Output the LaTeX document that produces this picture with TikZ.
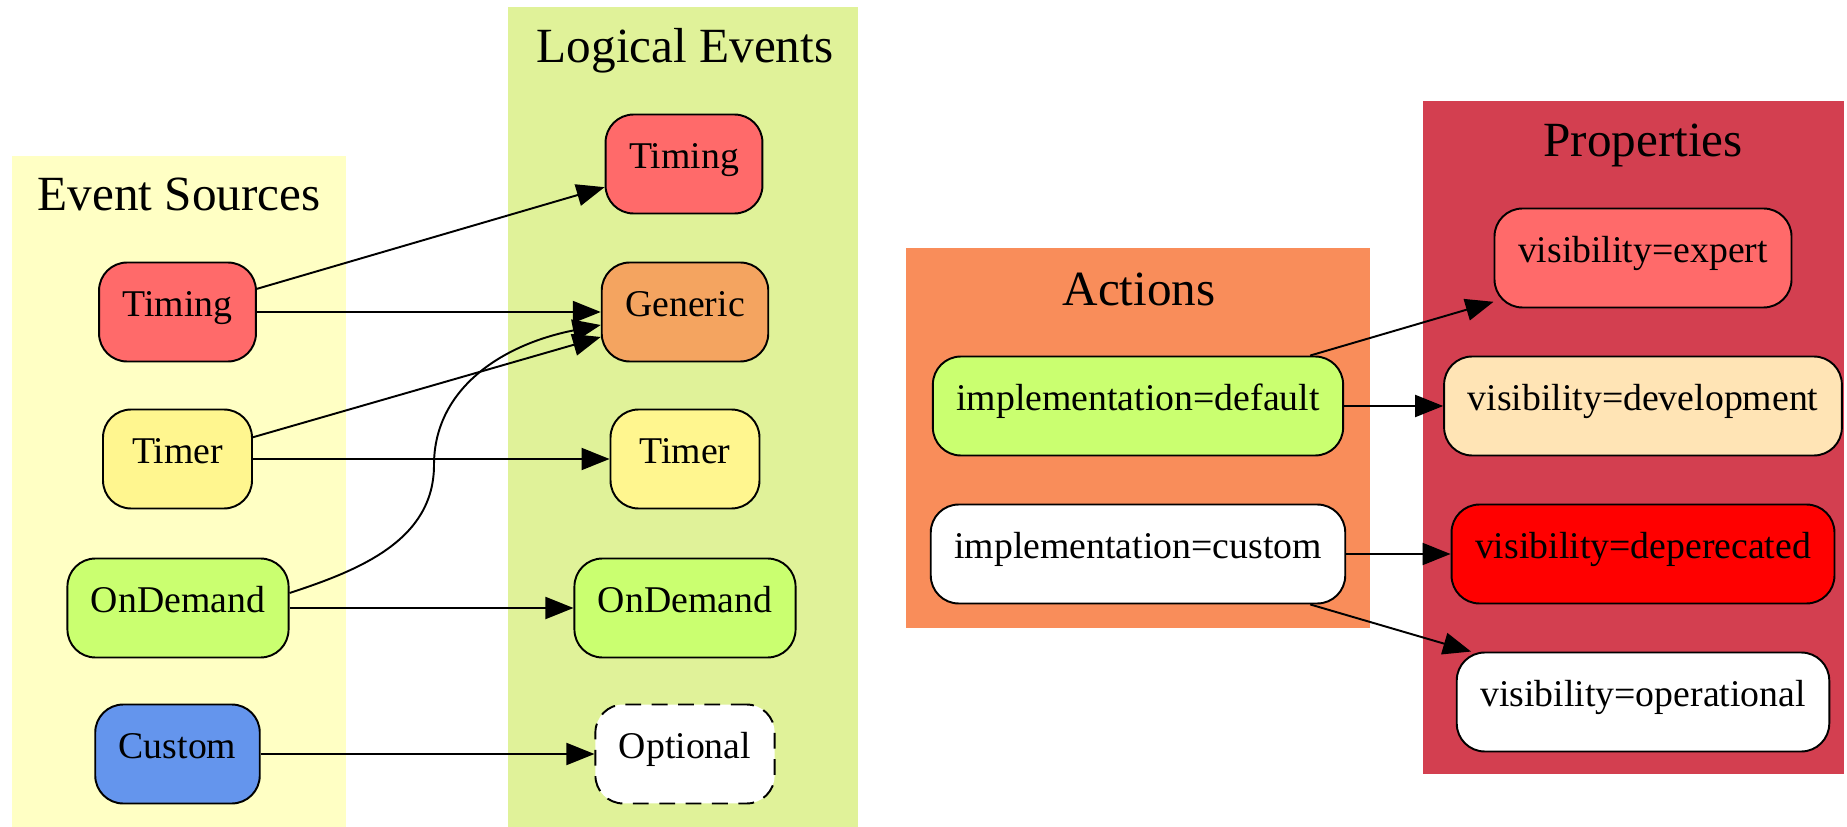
\documentclass[tikz,border=0pt]{standalone}
\usepackage{fontspec}
\setmainfont{Liberation Serif}
\usetikzlibrary{arrows.meta}
\tikzset{>={Triangle[length=0.56cm,width=0.44cm]}}

\definecolor{srcbg}{HTML}{FFFFC4}
\definecolor{logbg}{HTML}{E0F299}
\definecolor{actbg}{HTML}{F98D5A}
\definecolor{propbg}{HTML}{D33F50}
\definecolor{timingred}{HTML}{FF6A6A}
\definecolor{genericorange}{HTML}{F4A460}
\definecolor{timeryellow}{HTML}{FFF68F}
\definecolor{demandgreen}{HTML}{CAFF70}
\definecolor{custblue}{HTML}{6495ED}
\definecolor{devbeige}{HTML}{FFE4B5}

\begin{document}
\begin{tikzpicture}[x=0.02cm, y=-0.02cm,
    box/.style={draw, line width=1.1pt, rounded corners=0.56cm,
        minimum width=2.98cm, minimum height=1.98cm, inner xsep=0.47cm,
        font=\fontsize{21.5}{25}\selectfont, text height=0.66em, text depth=0.2em},
    clustertitle/.style={anchor=base, font=\fontsize{28}{32}\selectfont},
    link/.style={->, line width=1.1pt}]
    \useasboundingbox (0,0) rectangle (1847,827);

    % cluster backgrounds
    \fill [srcbg] (12,156) rectangle (346,827);
    \fill [logbg] (508,7) rectangle (858,827);
    \fill [actbg] (906,248) rectangle (1370,628);
    \fill [propbg] (1423,101) rectangle (1844,774);
    \node [clustertitle] (t-sources) at (179,211) {Event Sources};
    \node [clustertitle] (t-logical) at (685,63) {Logical Events};
    \node [clustertitle] (t-actions) at (1139,306) {Actions};
    \node [clustertitle] (t-props) at (1643,157) {Properties};

    % event sources
    \node [box, fill=timingred] (s-timing) at (177.5,312) {Timing};
    \node [box, fill=timeryellow] (s-timer) at (177.5,459) {Timer};
    \node [box, fill=demandgreen] (s-ondemand) at (178,608) {OnDemand};
    \node [box, fill=custblue] (s-custom) at (177.5,754) {Custom};

    % logical events
    \node [box, fill=timingred] (l-timing) at (684,164) {Timing};
    \node [box, fill=genericorange] (l-generic) at (685,312) {Generic};
    \node [box, fill=timeryellow] (l-timer) at (685,459) {Timer};
    \node [box, fill=demandgreen] (l-ondemand) at (685,608) {OnDemand};
    \node [box, fill=white, dash pattern=on 9pt off 6pt] (l-optional) at (685,754) {Optional};

    % actions and properties
    \node [box, fill=demandgreen] (a-default) at (1138,406) {implementation=default};
    \node [box, fill=white] (a-custom) at (1138,554) {implementation=custom};
    \node [box, fill=timingred] (p-expert) at (1643,258) {visibility=expert};
    \node [box, fill=devbeige] (p-development) at (1643,406) {visibility=development};
    \node [box, fill=red] (p-deprecated) at (1643,554) {visibility=deperecated};
    \node [box, fill=white] (p-operational) at (1643,702) {visibility=operational};

    \draw [link] (s-timing) -- (l-timing);
    \draw [link] (s-timing) -- (l-generic);
    \draw [link] (s-timer) -- ([yshift=-0.5cm]l-generic.west);
    \draw [link] (s-timer) -- (l-timer);
    \draw [link] ([yshift=0.3cm]s-ondemand.east) .. controls (360,570) and (434,540) .. (434,465)
        .. controls (434,390) and (500,345) .. ([yshift=-0.26cm]l-generic.west);
    \draw [link] (s-ondemand) -- (l-ondemand);
    \draw [link] (s-custom) -- (l-optional);

    \draw [link] (a-default) -- (p-expert);
    \draw [link] (a-default) -- (p-development);
    \draw [link] (a-custom) -- (p-deprecated);
    \draw [link] (a-custom) -- (p-operational);
\end{tikzpicture}
\end{document}
